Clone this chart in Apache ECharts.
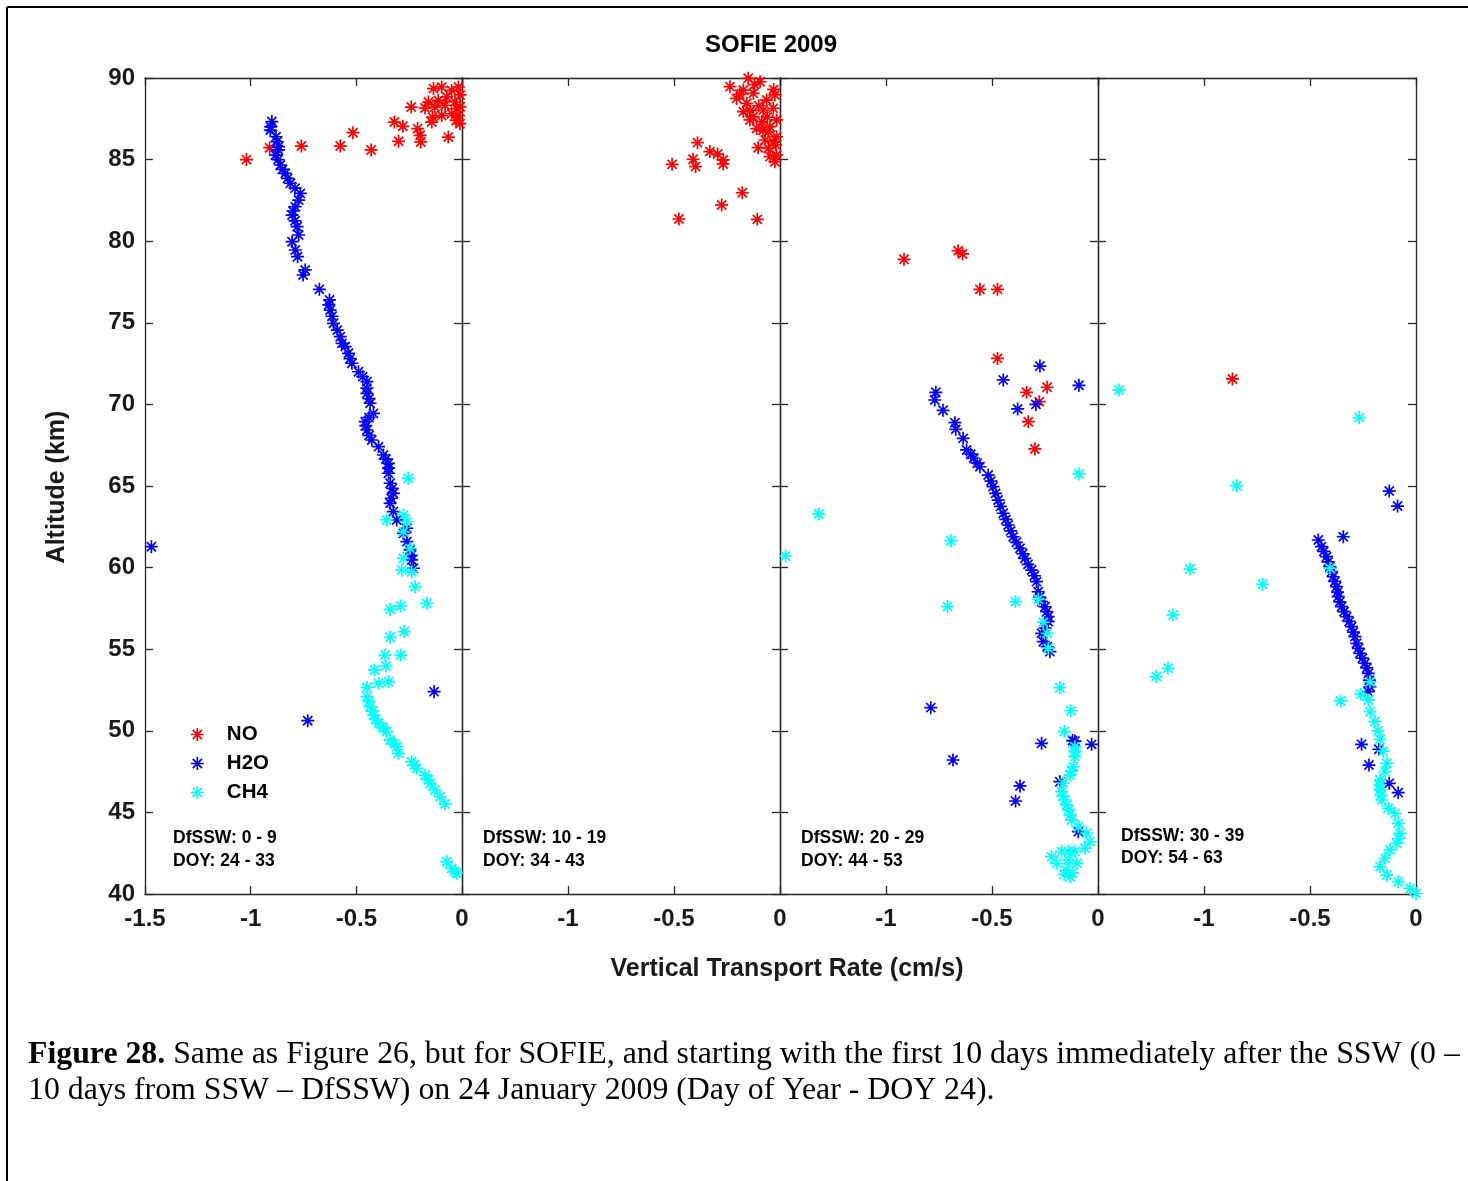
<!DOCTYPE html>
<html>
<head>
<meta charset="utf-8">
<script src="https://cdn.jsdelivr.net/npm/echarts@6/dist/echarts.min.js"></script>
<style>
html,body{margin:0;padding:0;background:#fff;}
#chart{width:1468px;height:1181px;}
</style>
</head>
<body>
<div id="chart"></div>
<script>
// ---- Data: [vertical transport rate (cm/s), altitude (km)] ----
const speciesNames = ['NO', 'H2O', 'CH4'];
const speciesColors = ['#ff0000', '#0000ff', '#00ffff'];

const no1 = [[-1.02,85.0],[-0.91,85.73],[-0.76,85.83],[-0.576,85.83],[-0.516,86.65],[-0.43,85.59],[-0.30,86.12],[-0.32,87.3],[-0.28,87.04],[-0.24,88.22],[-0.21,86.9],[-0.198,86.49],[-0.195,86.08],[-0.143,87.3],[-0.139,87.6],[-0.096,87.7],[-0.065,86.38],[-0.028,87.4],[-0.135,89.35],[-0.096,89.45],[-0.049,89.24],[-0.017,89.45],[-0.159,88.53],[-0.112,88.63],[-0.072,88.84],[-0.033,88.53],[-0.175,88.16],[-0.128,88.22],[-0.08,88.33],[-0.025,88.12],[-0.049,87.81],[-0.017,87.71],[-0.009,88.96],[-0.009,88.24],[-0.01,87.2]];
const h2o1 = [[-0.90,87.33],[-0.905,87.0],[-0.907,86.81],[-0.88,86.4],[-0.875,86.1],[-0.868,85.8],[-0.868,85.59],[-0.883,85.28],[-0.87,85.0],[-0.86,84.67],[-0.85,84.4],[-0.836,84.16],[-0.825,83.85],[-0.812,83.55],[-0.79,83.25],[-0.765,82.93],[-0.773,82.52],[-0.789,82.11],[-0.80,81.85],[-0.804,81.6],[-0.79,81.25],[-0.78,80.89],[-0.773,80.38],[-0.804,79.97],[-0.789,79.46],[-0.778,79.05],[-0.742,78.24],[-0.752,77.93],[-0.675,77.05],[-0.627,76.4],[-0.63,76.1],[-0.624,75.78],[-0.615,75.4],[-0.608,74.97],[-0.59,74.55],[-0.576,74.15],[-0.568,73.74],[-0.553,73.54],[-0.537,73.13],[-0.53,72.8],[-0.521,72.52],[-0.49,72.0],[-0.47,71.7],[-0.45,71.39],[-0.45,71.0],[-0.45,70.68],[-0.44,70.35],[-0.435,70.07],[-0.419,69.45],[-0.44,69.2],[-0.458,68.94],[-0.455,68.7],[-0.45,68.43],[-0.44,68.1],[-0.427,67.82],[-0.395,67.41],[-0.372,66.9],[-0.36,66.65],[-0.348,66.39],[-0.348,66.1],[-0.348,65.78],[-0.34,65.17],[-0.33,64.85],[-0.325,64.55],[-0.335,64.25],[-0.34,63.94],[-0.325,63.43],[-0.309,62.92],[-0.261,62.41],[-0.277,62.1],[-0.261,61.59],[-0.246,61.08],[-0.24,60.75],[-0.238,60.47],[-0.23,59.96],[-1.47,61.28],[-0.132,52.4],[-0.73,50.62]];
const ch41 = [[-0.254,65.47],[-0.356,62.92],[-0.277,63.22],[-0.261,62.81],[-0.277,62.2],[-0.246,61.18],[-0.277,60.57],[-0.285,59.85],[-0.238,59.75],[-0.222,58.83],[-0.167,57.81],[-0.34,57.44],[-0.29,57.65],[-0.34,55.73],[-0.274,56.08],[-0.364,54.64],[-0.29,54.64],[-0.414,53.73],[-0.36,53.97],[-0.348,53.01],[-0.395,52.91],[-0.45,52.66],[-0.45,52.09],[-0.44,51.8],[-0.435,51.48],[-0.425,51.2],[-0.419,50.97],[-0.41,50.7],[-0.395,50.46],[-0.375,50.2],[-0.356,49.95],[-0.34,49.44],[-0.32,49.2],[-0.309,49.03],[-0.301,48.62],[-0.238,48.11],[-0.225,47.9],[-0.214,47.7],[-0.175,47.29],[-0.16,47.0],[-0.151,46.78],[-0.128,46.37],[-0.104,45.96],[-0.08,45.51],[-0.072,41.98],[-0.049,41.57],[-0.033,41.37],[-0.025,41.27]];

const no2 = [[-0.389,86.04],[-0.509,84.71],[-0.41,85.02],[-0.398,84.57],[-0.331,85.49],[-0.294,85.34],[-0.268,84.98],[-0.268,84.73],[-0.178,82.97],[-0.275,82.22],[-0.477,81.36],[-0.107,81.34],[-0.236,89.47],[-0.15,89.98],[-0.094,89.77],[-0.173,89.26],[-0.126,89.06],[-0.205,88.75],[-0.157,88.45],[-0.063,88.65],[-0.024,88.96],[-0.173,87.94],[-0.126,87.63],[-0.079,88.04],[-0.032,88.14],[-0.142,87.43],[-0.086,87.33],[-0.047,87.02],[-0.016,87.43],[-0.055,86.71],[-0.016,86.4],[-0.103,85.73],[-0.055,85.69],[-0.032,86.1],[-0.047,85.18],[-0.016,85.28],[-0.024,84.87],[-0.12,89.6],[-0.19,89.0],[-0.1,88.3],[-0.14,88.0],[-0.06,87.6],[-0.08,86.8],[-0.03,89.3],[-0.11,86.9],[-0.07,86.2],[-0.02,85.9]];
const h2o2 = [];
const ch42 = [];

const no3 = [[-0.915,78.89],[-0.66,79.42],[-0.639,79.22],[-0.557,77.05],[-0.474,77.05],[-0.474,72.82],[-0.24,71.05],[-0.337,70.74],[-0.277,70.17],[-0.329,68.94],[-0.298,67.27]];
const h2o3 = [[-0.274,72.35],[-0.447,71.5],[-0.09,71.17],[-0.379,69.72],[-0.293,70.0],[-0.765,70.74],[-0.77,70.27],[-0.731,69.64],[-0.675,68.88],[-0.671,68.47],[-0.636,67.92],[-0.62,67.21],[-0.6,66.95],[-0.586,66.7],[-0.57,66.4],[-0.557,66.18],[-0.518,65.67],[-0.505,65.3],[-0.495,64.96],[-0.483,64.55],[-0.471,64.14],[-0.46,63.75],[-0.447,63.33],[-0.435,62.95],[-0.424,62.61],[-0.412,62.25],[-0.4,61.89],[-0.385,61.55],[-0.368,61.18],[-0.355,60.85],[-0.345,60.57],[-0.33,60.2],[-0.313,59.85],[-0.3,59.5],[-0.29,59.14],[-0.282,58.52],[-0.275,58.2],[-0.266,57.91],[-0.25,57.6],[-0.242,57.3],[-0.235,57.0],[-0.235,56.69],[-0.25,56.3],[-0.266,55.97],[-0.258,55.46],[-0.24,55.15],[-0.227,54.85],[-0.789,51.42],[-0.684,48.21],[-0.368,46.62],[-0.389,45.7],[-0.266,49.23],[-0.109,49.37],[-0.03,49.17],[-0.18,46.88],[-0.093,43.82],[-0.12,49.4]];
const ch43 = [[-0.09,65.74],[-1.318,63.28],[-1.474,60.71],[-0.694,61.65],[-0.71,57.61],[-0.389,57.91],[-0.282,58.06],[-0.258,56.65],[-0.24,55.97],[-0.235,55.06],[-0.18,52.64],[-0.128,51.23],[-0.159,49.95],[-0.109,49.03],[-0.109,48.72],[-0.109,48.42],[-0.116,47.8],[-0.125,47.55],[-0.132,47.29],[-0.164,46.78],[-0.172,46.27],[-0.165,46.0],[-0.156,45.76],[-0.148,45.45],[-0.14,45.15],[-0.132,44.85],[-0.124,44.53],[-0.093,44.12],[-0.053,43.72],[-0.038,43.21],[-0.061,42.8],[-0.109,42.6],[-0.14,42.6],[-0.172,42.6],[-0.219,42.29],[-0.195,41.88],[-0.14,42.08],[-0.1,41.88],[-0.148,41.47],[-0.132,41.06],[-0.12,41.3],[-0.16,41.2]];

const no4 = [[-0.866,71.56]];
const h2o4 = [[-0.126,64.69],[-0.087,63.77],[-0.343,61.89],[-0.461,61.69],[-0.446,61.28],[-0.435,61.0],[-0.422,60.67],[-0.415,60.35],[-0.406,60.06],[-0.398,59.75],[-0.391,59.44],[-0.383,59.15],[-0.375,58.83],[-0.37,58.5],[-0.367,58.22],[-0.36,57.9],[-0.351,57.61],[-0.34,57.3],[-0.327,56.99],[-0.315,56.7],[-0.304,56.38],[-0.295,56.05],[-0.288,55.77],[-0.28,55.36],[-0.272,55.05],[-0.265,54.75],[-0.253,54.45],[-0.241,54.14],[-0.232,53.85],[-0.225,53.52],[-0.22,53.1],[-0.217,52.7],[-0.225,52.4],[-0.257,49.17],[-0.175,48.87],[-0.222,47.9],[-0.126,46.78],[-0.084,46.21]];
const ch44 = [[-1.401,70.88],[-0.268,69.19],[-0.846,65.02],[-1.066,59.91],[-0.724,58.98],[-1.146,57.1],[-0.406,59.96],[-1.225,53.32],[-1.17,53.83],[-0.356,51.83],[-0.26,52.25],[-0.217,53.0],[-0.225,51.89],[-0.217,51.17],[-0.194,50.56],[-0.18,50.0],[-0.17,49.48],[-0.155,48.75],[-0.138,48.01],[-0.146,47.5],[-0.17,46.99],[-0.172,46.68],[-0.17,46.37],[-0.166,46.05],[-0.162,45.76],[-0.131,45.25],[-0.099,44.94],[-0.084,44.33],[-0.076,43.72],[-0.082,43.4],[-0.091,43.11],[-0.123,42.7],[-0.146,42.19],[-0.17,41.68],[-0.138,41.16],[-0.084,40.75],[-0.028,40.34],[0.0,40.03]];

const dfsswLabels = ['DfSSW: 0 - 9', 'DfSSW: 10 - 19', 'DfSSW: 20 - 29', 'DfSSW: 30 - 39'];
const doyLabels = ['DOY: 24 - 33', 'DOY: 34 - 43', 'DOY: 44 - 53', 'DOY: 54 - 63'];
const xRange = [-1.5, 0], xStep = 0.5;
const yRange = [40, 90], yStep = 5;
const titleText = 'SOFIE 2009';
const xTitle = 'Vertical Transport Rate (cm/s)';
const yTitle = 'Altitude (km)';
const captionBold = 'Figure 28.';
const captionLine1 = ' Same as Figure 26, but for SOFIE, and starting with the first 10 days immediately after the SSW (0 –';
const captionLine2 = '10 days from SSW – DfSSW) on 24 January 2009 (Day of Year - DOY 24).';

const panels = [[no1, h2o1, ch41], [no2, h2o2, ch42], [no3, h2o3, ch43], [no4, h2o4, ch44]];

// ---- Layout / style ----
const panelLeft = [145, 462, 780, 1098];
const panelWidth = [317, 318, 318, 318];
const panelTop = 78, panelHeight = 816;
const axisColor = '#262626';
const FONT = '"Liberation Sans", Arial, Helvetica, sans-serif';
const SERIF = '"Liberation Serif", "Times New Roman", serif';
const star = 'path://M0,5L10,5M5,0L5,10M1.46,1.46L8.54,8.54M1.46,8.54L8.54,1.46';

const grid = [], xAxis = [], yAxis = [], series = [];
const lineStyle = { color: axisColor, width: 1.3 };
panels.forEach((p, i) => {
  grid.push({ left: panelLeft[i], top: panelTop, width: panelWidth[i], height: panelHeight, containLabel: false });
  ['bottom', 'top'].forEach(pos => {
    xAxis.push({
      gridIndex: i, type: 'value', position: pos, min: xRange[0], max: xRange[1], interval: xStep,
      axisLine: { show: true, onZero: false, lineStyle },
      axisTick: { show: true, inside: true, length: 8, lineStyle },
      axisLabel: {
        show: pos === 'bottom', showMinLabel: i === 0, margin: 13,
        fontFamily: FONT, fontWeight: 'bold', fontSize: 24, color: '#1a1a1a'
      },
      splitLine: { show: false }
    });
  });
  ['left', 'right'].forEach(pos => {
    yAxis.push({
      gridIndex: i, type: 'value', position: pos, min: yRange[0], max: yRange[1], interval: yStep,
      axisLine: { show: true, onZero: false, lineStyle },
      axisTick: { show: true, inside: true, length: 8, lineStyle },
      axisLabel: {
        show: pos === 'left' && i === 0, margin: 10,
        fontFamily: FONT, fontWeight: 'bold', fontSize: 24, color: '#1a1a1a'
      },
      splitLine: { show: false }
    });
  });
  p.forEach((d, k) => {
    series.push({
      type: 'scatter', name: speciesNames[k], xAxisIndex: 2 * i, yAxisIndex: 2 * i,
      data: d, symbol: star, symbolSize: 13, clip: false,
      itemStyle: { color: speciesColors[k], borderColor: speciesColors[k], borderWidth: 1.7, opacity: 1 },
      emphasis: { disabled: true }, silent: true, animation: false
    });
  });
});

const graphic = [
  { type: 'line', shape: { x1: 7, y1: 7, x2: 1468, y2: 7 }, style: { stroke: '#000', lineWidth: 2 } },
  { type: 'line', shape: { x1: 7, y1: 7, x2: 7, y2: 1181 }, style: { stroke: '#000', lineWidth: 2 } },
  { type: 'text', x: 771, y: 45, style: { text: titleText, font: 'bold 24px ' + FONT, fill: '#000', textAlign: 'center', textVerticalAlign: 'middle' } },
  { type: 'text', x: 787, y: 969, style: { text: xTitle, font: 'bold 25px ' + FONT, fill: '#1a1a1a', textAlign: 'center', textVerticalAlign: 'middle' } },
  { type: 'text', x: 57, y: 487, rotation: Math.PI / 2, style: { text: yTitle, font: 'bold 25px ' + FONT, fill: '#1a1a1a', textAlign: 'center', textVerticalAlign: 'middle' } },
  { type: 'text', x: 28, y: 1055, style: { text: '{b|' + captionBold + '}' + captionLine1,
      rich: { b: { fontFamily: SERIF, fontWeight: 'bold', fontSize: 31.8, fill: '#000' } },
      font: '31.8px ' + SERIF, fill: '#000', textVerticalAlign: 'middle' } },
  { type: 'text', x: 28, y: 1091, style: { text: captionLine2,
      font: '31.8px ' + SERIF, fill: '#000', textVerticalAlign: 'middle' } }
];
const annX = [173, 483, 801, 1121];
const annY1 = [838, 838, 838, 836];
const annY2 = [861, 861, 861, 858];
annX.forEach((x, i) => {
  graphic.push({ type: 'text', x: x, y: annY1[i], style: { text: dfsswLabels[i], font: 'bold 17.5px ' + FONT, fill: '#000', textVerticalAlign: 'middle' } });
  graphic.push({ type: 'text', x: x, y: annY2[i], style: { text: doyLabels[i], font: 'bold 17.5px ' + FONT, fill: '#000', textVerticalAlign: 'middle' } });
});

const chart = echarts.init(document.getElementById('chart'), null, { renderer: 'canvas' });
chart.setOption({
  animation: false,
  backgroundColor: '#fff',
  grid, xAxis, yAxis, series, graphic,
  legend: {
    data: speciesNames.map(n => ({ name: n, icon: star })),
    orient: 'vertical', left: 185, top: 719, itemWidth: 13, itemHeight: 13, itemGap: 8,
    itemStyle: { borderWidth: 1.7 },
    selectedMode: false,
    textStyle: { fontFamily: FONT, fontWeight: 'bold', fontSize: 20.5, color: '#000', padding: [0, 0, 0, 18], lineHeight: 20 }
  }
});
</script>
</body>
</html>
